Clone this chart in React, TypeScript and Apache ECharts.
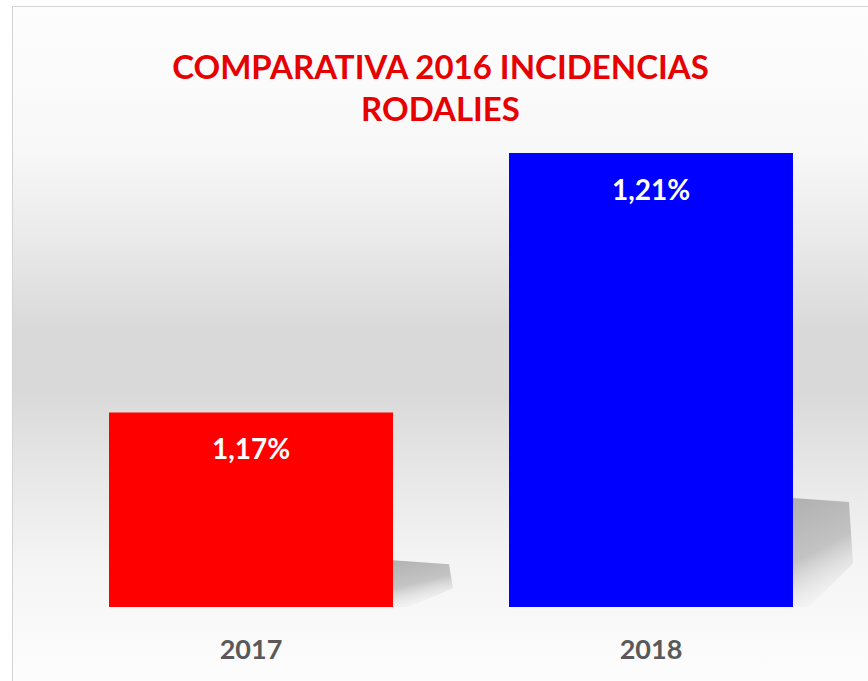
import React, { useEffect, useRef } from "react";
import * as echarts from "echarts";

const titleLines = ["COMPARATIVA 2016 INCIDENCIAS", "RODALIES"];
const categories = ["2017", "2018"];
const values = [1.17, 1.21];
const barColors = ["#ff0000", "#0000ff"];
const yMin = 1.14;
const yMax = 1.21;

const fmt = (v: number) => v.toFixed(2).replace(".", ",") + "%";

export default function App() {
  const ref = useRef<HTMLDivElement>(null);
  useEffect(() => {
    if (!ref.current) return;
    const chart = echarts.init(ref.current, undefined, { renderer: "svg" });
    const font = "Lato, 'Open Sans', sans-serif";
    chart.setOption({
      animation: false,
      backgroundColor: "transparent",
      title: {
        text: titleLines.join("\n"),
        left: "center",
        top: 38,
        padding: [0, 0, 0, 7],
        textStyle: {
          color: "#e60000",
          fontFamily: font,
          fontWeight: "bold",
          fontSize: 33,
          lineHeight: 42,
        },
      },
      grid: { left: 38, right: 17, top: 146, bottom: 74 },
      xAxis: {
        type: "category",
        data: categories,
        axisLine: { show: false },
        axisTick: { show: false },
        axisLabel: {
          margin: 28,
          color: "#595959",
          fontFamily: font,
          fontWeight: "bold",
          fontSize: 27,
        },
      },
      yAxis: {
        type: "value",
        min: yMin,
        max: yMax,
        show: false,
        splitLine: { show: false },
      },
      series: [
        {
          type: "custom",
          z: 1,
          silent: true,
          data: values.map((v, i) => [i, v]),
          renderItem: (params: any, api: any) => {
            const idx = api.value(0);
            const v = api.value(1);
            const top = api.coord([idx, v]);
            const base = api.coord([idx, yMin]);
            const band = api.size([1, 0])[0];
            const right = top[0] + (band * 0.71) / 2;
            const h = base[1] - top[1];
            const sh = h * 0.24;
            const yT = base[1] - sh;
            return {
              type: "polygon",
              shape: {
                points: [
                  [right, yT],
                  [right + 56, yT + 4],
                  [right + 60, yT + sh * 0.6],
                  [right + 16, base[1]],
                  [right, base[1]],
                ],
              },
              style: {
                fill: new echarts.graphic.LinearGradient(0, 0, 0.3, 1, [
                  { offset: 0, color: "rgba(165,165,165,0.85)" },
                  { offset: 0.55, color: "rgba(175,175,175,0.7)" },
                  { offset: 1, color: "rgba(220,220,220,0.1)" },
                ]),
              },
            };
          },
        },
        {
          type: "bar",
          z: 2,
          barWidth: "71%",
          data: values.map((v, i) => ({
            value: v,
            itemStyle: { color: barColors[i] },
          })),
          label: {
            show: true,
            position: "insideTop",
            distance: 22,
            formatter: (p: any) => fmt(p.value),
            color: "#ffffff",
            fontFamily: font,
            fontWeight: "bold",
            fontSize: 28,
          },
        },
      ],
    });
    return () => chart.dispose();
  }, []);

  return (
    <div
      style={{
        position: "absolute",
        left: 0,
        top: 0,
        width: 868,
        height: 681,
        background: "#ffffff",
      }}
    >
      <div
        ref={ref}
        style={{
          position: "absolute",
          left: 12,
          top: 6,
          width: 856,
          height: 675,
          boxSizing: "border-box",
          borderTop: "1px solid #d4d4d4",
          borderLeft: "1px solid #d4d4d4",
          background:
            "linear-gradient(to bottom, #fdfdfd 0%, #f8f8f8 21%, #e8e8e8 36%, #d9d9d9 48%, #d9d9d9 57%, #e8e8e8 70%, #f4f4f4 82%, #fdfdfd 100%)",
        }}
      />
    </div>
  );
}
